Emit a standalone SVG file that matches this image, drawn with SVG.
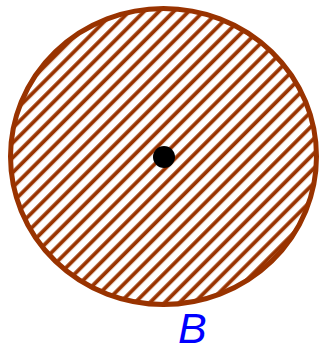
<svg xmlns="http://www.w3.org/2000/svg" width="322" height="352" viewBox="0 0 322 352">
<defs>
<pattern id="hatch" patternUnits="userSpaceOnUse" width="10.5" height="10.5" patternTransform="rotate(45)">
<line x1="5" y1="-1" x2="5" y2="11.5" stroke="#993300" stroke-width="3.8"/>
</pattern>
<style>
.lbl{font-family:"Liberation Sans",Arial,sans-serif;font-style:italic;font-size:43px;fill:#0000ff}
</style>
</defs>
<g id="region">
<ellipse cx="163.5" cy="156.5" rx="153" ry="148" fill="url(#hatch)" stroke="#993300" stroke-width="5"/>
</g>
<g id="center">
<circle cx="164" cy="157" r="11" fill="#000"/>
</g>
<g id="connectors"/>
<text class="lbl" x="178" y="343">B</text>
</svg>
